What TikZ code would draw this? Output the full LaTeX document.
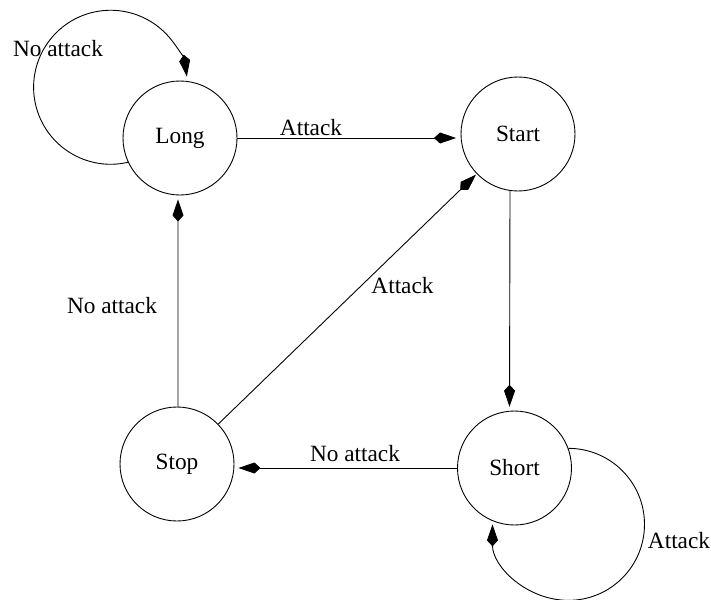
\documentclass[tikz,border=0pt]{standalone}
\usepackage{fontspec}
\setmainfont{Liberation Serif}
\usetikzlibrary{arrows.meta}
\begin{document}
\begin{tikzpicture}[x=1pt,y=-1pt,
  every node/.style={font=\fontsize{23.3}{28}\selectfont},
  state/.style={draw, circle, minimum size=114pt, inner sep=0pt, line width=0.9pt},
  trans/.style={line width=0.9pt, -{Kite[length=22pt,width=11pt,inset=6pt]}, shorten >=4pt},
  lbl/.style={anchor=base, inner sep=0pt}]
  \useasboundingbox (0,0) rectangle (711,599);

  % states
  \node[state] (Long)  at (180,138)   {Long};
  \node[state] (Start) at (518,134)   {Start};
  \node[state] (Stop)  at (177,464)   {Stop};
  \node[state] (Short) at (514.5,468) {Short};

  % transitions between states
  \draw[trans, shorten >=4.5pt] (Long.east) -- (Long.east -| Start.west);
  \draw[trans] (Start.262) -- (Short.95);
  \draw[trans] (Short.west) -- (Short.west -| Stop.east);
  \draw[trans] (Stop.89) -- (Long.268);
  \draw[trans, shorten >=1pt] (Stop) -- (Start);

  % self loops
  \draw[trans, shorten >=0pt] (Long.205) arc[start angle=283, end angle=8, radius=77pt];
  \draw[trans, shorten >=0pt] (Short.20) arc[start angle=90, end angle=-180, radius=76pt];

  % transition labels
  \node[lbl] (lLoopLong)  at (58,57)      {No attack};
  \node[lbl] (lLongStart) at (311,135)    {Attack};
  \node[lbl] (lStopStart) at (402.5,293)  {Attack};
  \node[lbl] (lStopLong)  at (112,313)    {No attack};
  \node[lbl] (lShortStop) at (355,461.7)  {No attack};
  \node[lbl] (lLoopShort) at (679,548.3)  {Attack};
\end{tikzpicture}
\end{document}
